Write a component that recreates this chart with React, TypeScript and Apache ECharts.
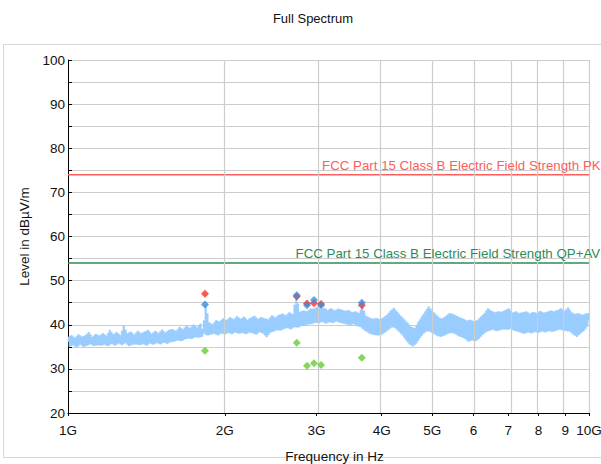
import { useEffect, useRef } from "react";
import * as echarts from "echarts";

// Frequency axis ticks (Hz) and their printed labels
const tickFreqsHz = [1e9, 2e9, 3e9, 4e9, 5e9, 6e9, 7e9, 8e9, 9e9, 1e10];
const tickLabels = ["1G", "2G", "3G", "4G", "5G", "6", "7", "8", "9", "10G"];

// Sweep range of the spectrum trace (log-spaced sweep points)
const sweepStartHz = 1e9;
const sweepStopHz = 1e10;

// Measured spectrum trace, dBµV/m, one value per sweep point
const traceLevels = [
  37.2, 35.1, 37.6, 35.4, 37.0, 34.9, 37.8, 35.5, 37.3, 35.0, 37.6, 35.3, 38.3, 35.6, 37.2, 35.2, 37.9, 35.4, 37.5, 35.3,
  38.1, 35.5, 37.5, 35.2, 38.8, 35.7, 37.8, 35.3, 38.3, 35.8, 37.6, 35.4, 39.7, 35.9, 38.0, 35.2, 38.4, 35.5, 37.7, 35.6,
  38.6, 35.4, 38.0, 35.7, 38.4, 35.3, 38.8, 35.8, 37.9, 35.5, 38.6, 35.9, 38.1, 35.6, 38.9, 36.0, 38.2, 35.7, 38.8, 36.1,
  39.0, 36.2, 38.5, 36.5, 39.5, 36.3, 38.9, 36.7, 39.8, 36.9, 39.2, 36.8, 40.0, 37.2, 39.4, 37.1, 40.2, 37.3, 38.0, 44.6,
  37.6, 40.5, 37.8, 40.1, 38.0, 41.0, 37.6, 40.7, 38.1, 41.4, 37.8, 41.0, 38.2, 41.7, 37.9, 41.2, 38.3, 41.9, 38.0, 41.3,
  38.2, 41.8, 37.9, 41.1, 38.3, 41.6, 38.1, 42.0, 37.8, 41.3, 38.4, 41.7, 38.0, 41.4, 37.2, 41.2, 38.2, 42.1, 38.5, 41.6,
  38.8, 42.2, 38.7, 42.5, 39.1, 42.1, 39.3, 42.8, 39.0, 42.4, 39.5, 46.6, 39.4, 42.9, 39.7, 43.2, 39.9, 43.0, 40.1, 43.6,
  40.2, 43.6, 40.5, 44.0, 40.4, 43.5, 40.7, 43.8, 40.3, 43.3, 40.6, 43.7, 40.4, 43.2, 40.8, 43.6, 40.5, 43.4, 40.3, 43.1,
  40.1, 43.3, 39.9, 42.8, 40.2, 43.0, 39.7, 42.6, 39.5, 44.2, 38.8, 42.0, 38.3, 41.6, 37.9, 41.3, 37.7, 41.5, 37.6, 41.2,
  37.8, 41.6, 38.3, 42.2, 38.9, 43.1, 39.5, 43.8, 39.2, 42.9, 38.4, 42.0, 37.6, 41.2, 36.5, 40.4, 35.6, 39.5, 35.1, 39.2,
  35.8, 40.6, 37.0, 41.8, 38.0, 43.0, 38.6, 44.1, 38.4, 43.2, 38.0, 42.4, 37.5, 41.6, 37.3, 41.4, 37.6, 42.0, 38.0, 42.6,
  38.2, 42.4, 38.0, 42.0, 37.5, 41.6, 37.2, 41.3, 36.8, 40.9, 36.2, 41.1, 36.5, 40.7, 36.3, 41.0, 36.9, 41.8, 37.8, 42.6,
  38.4, 43.7, 38.7, 43.1, 38.9, 42.8, 38.6, 43.0, 38.8, 42.9, 39.0, 43.3, 38.9, 43.7, 39.1, 42.7, 38.7, 43.0, 38.5, 42.6,
  38.2, 42.8, 38.0, 43.0, 38.3, 42.5, 38.1, 42.9, 38.4, 42.6, 38.2, 43.1, 38.5, 42.7, 38.3, 42.9, 38.6, 43.2, 38.4, 43.0,
  38.7, 43.3, 38.9, 43.7, 38.8, 43.1, 38.6, 43.9, 38.5, 42.8, 37.8, 42.4, 37.3, 42.6, 38.0, 42.2, 38.6, 42.5, 39.6, 42.6,
];

// Final measurement results
const markerFreqsGHz = [1.832, 2.748, 2.876, 2.966, 3.06, 3.664];
const peakLevels = [47.0, 46.4, 44.8, 44.9, 44.7, 44.4];
const qpLevels = [44.6, 46.7, 44.4, 45.6, 44.4, 45.0];
const avLevels = [34.1, 35.9, 30.7, 31.3, 30.9, 32.5];

// Limit lines
const pkLimit = 74;
const qpAvLimit = 54;
const pkLimitName = "FCC Part 15 Class B Electric Field Strength PK";
const qpAvLimitName = "FCC Part 15 Class B Electric Field Strength QP+AV";
const pkLabelAtGHz = 3.08;
const qpAvLabelAtGHz = 2.74;

const FONT = "'Liberation Sans', Arial, Helvetica, sans-serif";
const GRID_COLOR = "#cdcdcd";
const TRACE_COLOR = "#99ccff";

// the frequency axis is drawn on log10(Hz)
const lg = (hz: number) => Math.log10(hz);
const tickPos = tickFreqsHz.map(lg);

function labelFor(v: number): string {
  let best = 0;
  for (let i = 1; i < tickPos.length; i++) {
    if (Math.abs(tickPos[i] - v) < Math.abs(tickPos[best] - v)) best = i;
  }
  return Math.abs(tickPos[best] - v) < 1e-6 ? tickLabels[best] : "";
}

export default function App() {
  const ref = useRef<HTMLDivElement>(null);

  useEffect(() => {
    if (!ref.current) return;
    const chart = echarts.init(ref.current, undefined, { renderer: "svg" });

    const n = traceLevels.length;
    const ratio = sweepStopHz / sweepStartHz;
    const sweepX = traceLevels.map((_, i) => lg(sweepStartHz * Math.pow(ratio, i / (n - 1))));
    // each sweep point fills one display column, from its level to the
    // mean of its neighbours, as a dense trace does on screen
    const columns = traceLevels.map((lv, i) => {
      const prev = traceLevels[Math.max(0, i - 1)];
      const next = traceLevels[Math.min(n - 1, i + 1)];
      const mid = (prev + next) / 2;
      const left = i === 0 ? sweepX[0] : (sweepX[i - 1] + sweepX[i]) / 2;
      const right = i === n - 1 ? sweepX[n - 1] : (sweepX[i] + sweepX[i + 1]) / 2;
      return [left, right, Math.min(lv, mid), Math.max(lv, mid)];
    });
    const traceMin = Math.min(...traceLevels);
    const traceMax = Math.max(...traceLevels);

    const pts = (levels: number[]) =>
      levels.map((lv, i) => [lg(markerFreqsGHz[i] * 1e9), lv]);

    const limitSeries = (name: string, level: number, color: string, labelAtGHz: number) => ({
      name,
      type: "line",
      data: [
        [lg(tickFreqsHz[0]), level],
        [lg(tickFreqsHz[tickFreqsHz.length - 1]), level],
      ],
      symbol: "none",
      lineStyle: { color, width: 1.5 },
      z: 4,
      markPoint: {
        silent: true,
        symbol: "circle",
        symbolSize: 1,
        itemStyle: { color: "rgba(0,0,0,0)" },
        label: {
          show: true,
          position: [0, -15],
          formatter: name,
          color,
          fontSize: 13.3,
          fontFamily: FONT,
        },
        data: [{ coord: [lg(labelAtGHz * 1e9), level] }],
      },
    });

    const markerSeries = (name: string, levels: number[], color: string, z: number) => ({
      name,
      type: "scatter",
      data: pts(levels),
      symbol: "diamond",
      symbolSize: 8,
      itemStyle: { color },
      z,
    });

    chart.setOption({
      animation: false,
      textStyle: { fontFamily: FONT },
      title: {
        text: "Full Spectrum",
        left: 308,
        textAlign: "center",
        top: 7,
        textStyle: { fontSize: 13, fontWeight: "normal", color: "#111", fontFamily: FONT },
      },
      graphic: [
        {
          type: "rect",
          z: -10,
          silent: true,
          shape: { x: 3.5, y: 44.5, width: 640, height: 413 },
          style: { fill: "none", stroke: "#d6d6d6", lineWidth: 1 },
        },
      ],
      grid: { left: 68, right: 12, top: 60, bottom: 51, outerBoundsMode: "none" },
      xAxis: {
        type: "value",
        min: lg(tickFreqsHz[0]),
        max: lg(tickFreqsHz[tickFreqsHz.length - 1]),
        name: "Frequency in Hz",
        nameLocation: "middle",
        nameGap: 36,
        nameTextStyle: { fontSize: 13.5, color: "#111", fontFamily: FONT, padding: [0, 0, 0, 12] },
        axisLine: { lineStyle: { color: "#000", width: 1 } },
        axisTick: { show: true, customValues: tickPos, length: 3, lineStyle: { color: "#000" } },
        axisLabel: {
          customValues: tickPos,
          formatter: (v: number) => labelFor(v),
          fontSize: 13.5,
          color: "#111",
          margin: 10,
          fontFamily: FONT,
        },
        splitLine: { show: false },
      },
      yAxis: {
        type: "value",
        min: 20,
        max: 100,
        interval: 5,
        name: "Level in dBµV/m",
        nameLocation: "middle",
        nameGap: 27,
        nameTextStyle: { fontSize: 13.5, color: "#111", fontFamily: FONT },
        axisLine: { show: true, lineStyle: { color: "#000", width: 1 } },
        axisTick: { show: true, inside: true, length: 4, lineStyle: { color: "#000" } },
        axisLabel: {
          formatter: (v: number) => (v % 10 === 0 ? String(v) : ""),
          fontSize: 13.5,
          color: "#111",
          margin: 3,
          fontFamily: FONT,
        },
        splitLine: { show: true, lineStyle: { color: GRID_COLOR, width: 1.2 } },
      },
      series: [
        {
          name: "grid",
          type: "line",
          data: [],
          silent: true,
          z: 1,
          markLine: {
            silent: true,
            symbol: "none",
            label: { show: false },
            lineStyle: { color: GRID_COLOR, width: 1.2, type: "solid" },
            data: tickPos.slice(1).map((v) => ({ xAxis: v })),
          },
        },
        {
          name: "Trace",
          type: "custom",
          data: [[sweepX[0], sweepX[n - 1], traceMin, traceMax]],
          encode: { x: [0, 1], y: [2, 3] },
          silent: true,
          z: 2,
          renderItem: (_params: any, api: any) => {
            const upper: number[][] = [];
            const lower: number[][] = [];
            columns.forEach(([l, r, lo, hi]) => {
              upper.push(api.coord([l, hi]), api.coord([r, hi]));
              lower.push(api.coord([l, lo]), api.coord([r, lo]));
            });
            return {
              type: "polygon",
              shape: { points: upper.concat(lower.reverse()) },
              style: { fill: TRACE_COLOR, stroke: TRACE_COLOR, lineWidth: 0.4 },
            };
          },
        },
        limitSeries(pkLimitName, pkLimit, "#ff5c5c", pkLabelAtGHz),
        limitSeries(qpAvLimitName, qpAvLimit, "#2e8b57", qpAvLabelAtGHz),
        markerSeries("Peak", peakLevels, "#ff2a2a", 5),
        markerSeries("QP", qpLevels, "#3b8fd8", 6),
        markerSeries("AV", avLevels, "#66cc33", 6),
      ],
    });

    return () => chart.dispose();
  }, []);

  return (
    <div
      ref={ref}
      style={{ position: "fixed", left: 0, top: 0, width: 601, height: 464, background: "#fff" }}
    />
  );
}
